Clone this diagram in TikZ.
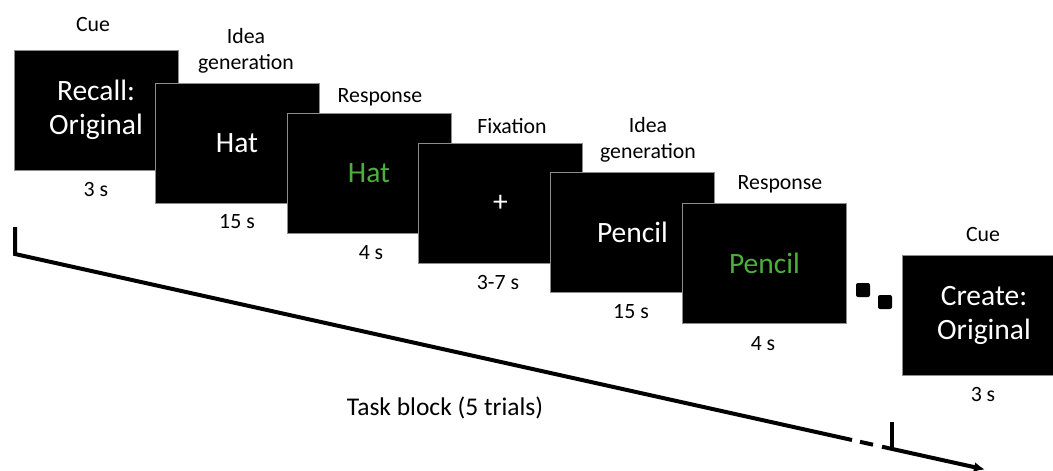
\documentclass[tikz,border=0pt]{standalone}
\usepackage{fontspec}
\setmainfont{Carlito}
\usetikzlibrary{arrows.meta}
\definecolor{wordgreen}{RGB}{76,175,60}
\definecolor{framegray}{RGB}{140,140,140}
\begin{document}
\begin{tikzpicture}[x=1pt,y=-1pt,
  screen/.style={fill=black,draw=framegray,line width=0.8pt,minimum width=164pt,minimum height=120pt,
    inner sep=0pt,text=white,font=\fontsize{29.5}{34}\selectfont,align=center},
  lbl/.style={font=\fontsize{21.8}{26}\selectfont,align=center,inner sep=0pt},
  tl/.style={line width=4pt,line join=miter},
  dotsq/.style={fill=black,minimum size=14pt,inner sep=0pt,rounded corners=2pt}]
\clip (0,0) rectangle (1053,471);
\fill[white] (0,0) rectangle (1053,471);
% screens
\node[screen] (b1) at (96,110) {Recall:\\Original};
\node[screen] (b2) at (237,143) {Hat};
\node[screen,text=wordgreen] (b3) at (369,173) {Hat};
\node[screen] (b4) at (500.5,203) {+};
\node[screen] (b5) at (632.5,232) {Pencil};
\node[screen,text=wordgreen] (b6) at (764.5,263) {Pencil};
\node[screen] (b7) at (984,315) {Create:\\Original};
% labels above
\node[lbl] (l1) at (93,25) {Cue};
\node[lbl] (l2) at (246,51) {Idea\\generation};
\node[lbl] (l3) at (380,97) {Response};
\node[lbl] (l4) at (512,126) {Fixation};
\node[lbl] (l5) at (648,140) {Idea\\generation};
\node[lbl] (l6) at (780,184) {Response};
\node[lbl] (l7) at (983,235) {Cue};
% durations
\node[lbl] (d1) at (96,190) {3 s};
\node[lbl] (d2) at (237,222) {15 s};
\node[lbl] (d3) at (371,253) {4 s};
\node[lbl] (d4) at (498,283) {3-7 s};
\node[lbl] (d5) at (631,312) {15 s};
\node[lbl] (d6) at (763,344) {4 s};
\node[lbl] (d7) at (983,395) {3 s};
% ellipsis squares
\node[dotsq] (s1) at (863,290) {};
\node[dotsq] (s2) at (885,302) {};
% timeline
\coordinate (tt) at (15,227);
\coordinate (tc) at (15,254);
\coordinate (g1) at (852,440);
\coordinate (e1) at (860,441.8);
\coordinate (e2) at (873,444.7);
\coordinate (g2) at (882,446.7);
\coordinate (tip) at (985,469.5);
\coordinate (k1) at (892,422);
\coordinate (k2) at (892,449);
\draw[tl] (tt) -- (tc) -- (g1);
\draw[tl] (e1) -- (e2);
\draw[tl,-{Latex[length=11pt,width=10pt]}] (g2) -- (tip);
\draw[tl] (k1) -- (k2);
\node[font=\fontsize{25.5}{30}\selectfont,inner sep=0pt] (task) at (445,408) {Task block (5 trials)};
\end{tikzpicture}
\end{document}
